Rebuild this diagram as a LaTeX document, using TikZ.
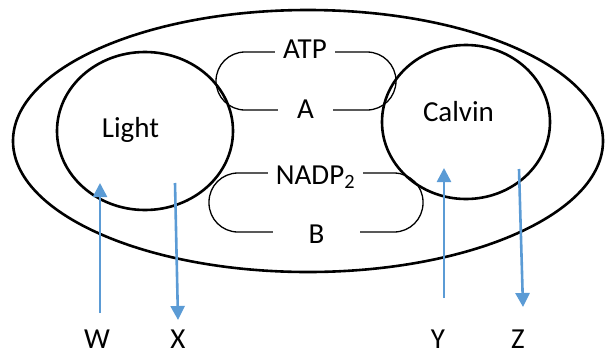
\documentclass[tikz,border=0pt]{standalone}
\usepackage{fontspec}
\setmainfont{Carlito}
\usetikzlibrary{arrows.meta}
\tikzset{>={Triangle[width=14pt,length=14pt]}}
\definecolor{flowblue}{RGB}{91,155,213}

\begin{document}
\begin{tikzpicture}[x=1pt,y=-1pt]
        \useasboundingbox (0,0) rectangle (605,354);

          \tikzstyle{cyc} = [line width=2.6pt, draw=black]
          \tikzstyle{brk} = [line width=1.3pt, draw=black, rounded corners=29pt]
          \tikzstyle{lbl} = [font=\fontsize{29}{34}\selectfont, inner sep=0pt, anchor=base]
          \tikzstyle{mol} = [lbl, fill=white]
          \tikzstyle{flow} = [->, line width=2.6pt, draw=flowblue]

          % chloroplast and the two stages
          \draw[cyc] (308,141) ellipse [x radius=295, y radius=131];
          \draw[cyc] (145,131) ellipse [x radius=88, y radius=79];
          \draw[cyc] (466,122) ellipse [x radius=84, y radius=77];

          \node[lbl] (light) at (130.5,137) {Light};
          \node[lbl] (calvin) at (458.5,121) {Calvin};

          % the two exchange loops
          \draw[brk] (216,52) rectangle (396,110);
          \draw[brk] (209,173) rectangle (423,232);

          \node[mol, minimum width=60] (atp) at (305,58) {ATP};
          \node[mol, minimum width=55] (a) at (305.5,118) {A};
          \node[mol, minimum width=95] (nadp) at (315.5,184) {NADP\textsubscript{2}};
          \node[mol, minimum width=87] (b) at (316.5,243) {B};

          % inputs and outputs
          \node[lbl] (w) at (97,348) {W};
          \node[lbl] (x) at (178,348) {X};
          \node[lbl] (y) at (438,348) {Y};
          \node[lbl] (z) at (518,348) {Z};

          \coordinate (wtail) at (100,313);
          \coordinate (whead) at (100,183);
          \coordinate (xtail) at (175,183);
          \coordinate (xhead) at (178,320);
          \coordinate (ytail) at (444,298);
          \coordinate (yhead) at (444,168);
          \coordinate (ztail) at (519,169);
          \coordinate (zhead) at (523,307);

          \draw[flow] (wtail) -- (whead);
          \draw[flow] (xtail) -- (xhead);
          \draw[flow] (ytail) -- (yhead);
          \draw[flow] (ztail) -- (zhead);

\end{tikzpicture}
\end{document}
